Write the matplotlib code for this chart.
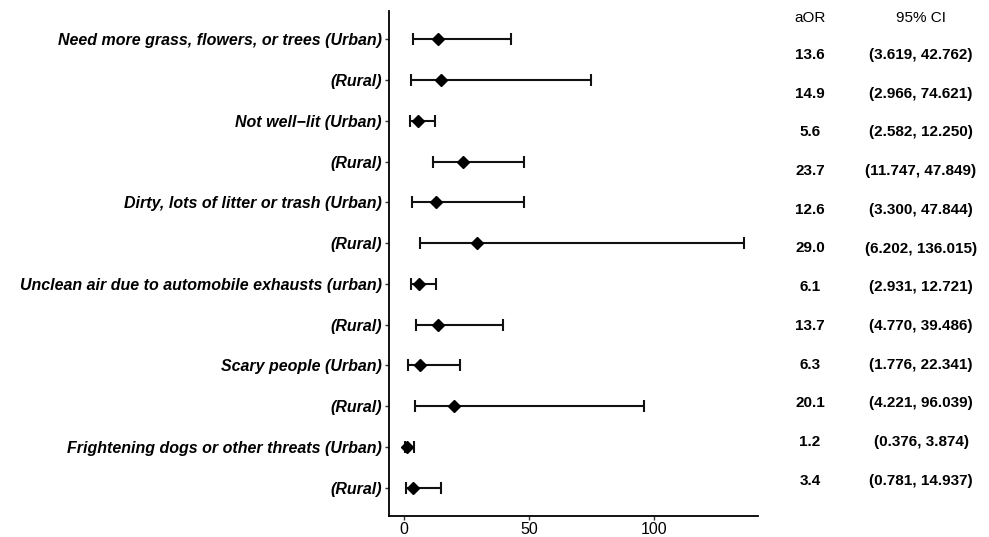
import matplotlib.pyplot as plt
import numpy as np

labels = ["Need more grass, flowers, or trees (Urban)", "(Rural)",
          "Not well\u2212lit (Urban)", "(Rural)",
          "Dirty, lots of litter or trash (Urban)", "(Rural)",
          "Unclean air due to automobile exhausts (urban)", "(Rural)",
          "Scary people (Urban)", "(Rural)",
          "Frightening dogs or other threats (Urban)", "(Rural)"]
aor = [13.6, 14.9, 5.6, 23.7, 12.6, 29.0, 6.1, 13.7, 6.3, 20.1, 1.2, 3.4]
ci_low = [3.619, 2.966, 2.582, 11.747, 3.300, 6.202, 2.931, 4.770, 1.776, 4.221, 0.376, 0.781]
ci_high = [42.762, 74.621, 12.250, 47.849, 47.844, 136.015, 12.721, 39.486, 22.341, 96.039, 3.874, 14.937]
x_ticks = [0, 50, 100]


def main():
  plt.rcParams['font.family'] = ['Liberation Sans', 'DejaVu Sans']
  fig = plt.figure(figsize=(9.89, 5.37), dpi=100)
  ax = fig.add_axes([389 / 989, 21 / 537, (758 - 389) / 989, (516 - 11) / 537])

  n = len(labels)
  y = np.arange(n, 0, -1)
  aor_arr = np.array(aor)
  xerr = [aor_arr - np.array(ci_low), np.array(ci_high) - aor_arr]
  ax.errorbar(aor_arr, y, xerr=xerr, fmt='none', ecolor='#111111', elinewidth=1.5,
              capsize=4, capthick=1.5)
  ax.plot(aor_arr, y, 'D', color='black', markersize=6)

  ax.set_xlim(-6, 141.6)
  ax.set_ylim(0.31, n + 0.69)
  ax.set_xticks(x_ticks)
  ax.set_xticklabels([str(t) for t in x_ticks], fontsize=11.5)
  ax.set_yticks(y)
  ax.set_yticklabels(labels, fontsize=11.5, fontweight='bold', fontstyle='italic')
  for side in ['top', 'right']:
    ax.spines[side].set_visible(False)
  for side in ['left', 'bottom']:
    ax.spines[side].set_linewidth(1.3)
  ax.tick_params(axis='x', length=3, width=1, color='#333333', pad=1)
  ax.tick_params(axis='y', length=3, width=1, color='#333333', pad=2)

  # table on the right
  col_aor = 810 / 989
  col_ci = 921 / 989
  fig.text(col_aor, 1 - 18 / 537, "aOR", ha='center', va='center', fontsize=11)
  fig.text(col_ci, 1 - 18 / 537, "95% CI", ha='center', va='center', fontsize=11)
  for i in range(n):
    yy = 1 - (55 + i * 38.7) / 537
    fig.text(col_aor, yy, f"{aor[i]:.1f}", ha='center', va='center',
             fontsize=11, fontweight='bold')
    fig.text(col_ci, yy, f"({ci_low[i]:.3f}, {ci_high[i]:.3f})", ha='center',
             va='center', fontsize=11, fontweight='bold')

  plt.savefig("out.png", dpi=100)


if __name__ == '__main__':
  main()
